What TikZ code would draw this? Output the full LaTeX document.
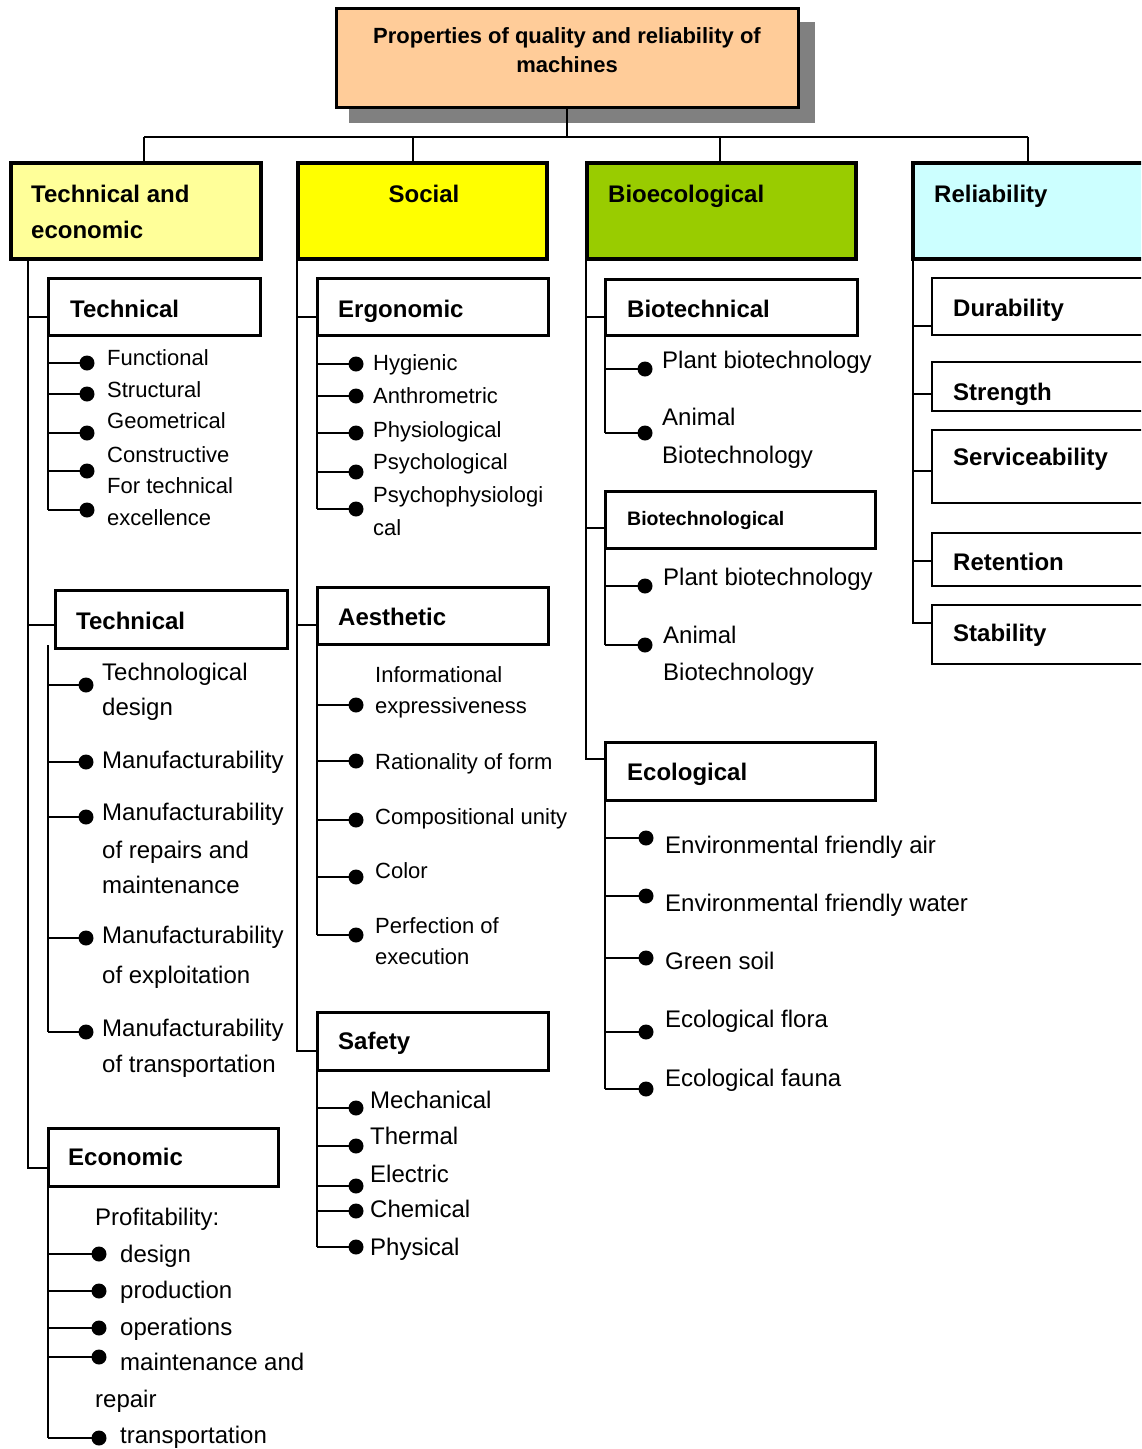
\documentclass[tikz,border=0pt]{standalone}
\usepackage{fontspec}
\setmainfont{Liberation Sans}
\definecolor{peach}{HTML}{FFCC99}
\definecolor{lyellow}{HTML}{FFFF99}
\definecolor{yel}{HTML}{FFFF00}
\definecolor{biogreen}{HTML}{99CC00}
\definecolor{lcyan}{HTML}{CCFFFF}
\definecolor{shadowgray}{HTML}{808080}
\newcommand\itemdot[4]{\node[dot] (#1) at (#3,#4) {}; \draw[tick] (#2 |- #1) -- (#1.center);}
\begin{document}
\begin{tikzpicture}[x=1pt,y=-1pt,
  trunk/.style={line width=2pt},
  tick/.style={line width=2.6pt},
  lvlbox/.style={draw, line width=3.5pt, anchor=north west, inner sep=0pt, outer sep=0pt},
  subbox/.style={draw, line width=3pt, anchor=north west, inner sep=0pt, outer sep=0pt, fill=white},
  relbox/.style={draw, line width=2.2pt, anchor=north west, inner sep=0pt, outer sep=0pt, fill=white},
  dot/.style={circle, fill=black, inner sep=0pt, minimum size=15pt},
  hd/.style={anchor=base west, inner sep=0pt, font=\bfseries\fontsize{24}{28}\selectfont},
  ta/.style={anchor=base west, inner sep=0pt, font=\fontsize{24}{28}\selectfont},
  tb/.style={anchor=base west, inner sep=0pt, font=\fontsize{22}{26}\selectfont},
]
\useasboundingbox (0,0) rectangle (1141,1449);
\clip (0,0) rectangle (1141,1449);

% ---------- top ----------
\fill[shadowgray] (349,22) rectangle (815,123);
\node[lvlbox, fill=peach, line width=3pt, minimum width=462pt, minimum height=99pt] (top) at (336,8) {};
\node[anchor=base, inner sep=0pt, font=\bfseries\fontsize{22}{26}\selectfont] (top-t1) at (567,43) {Properties of quality and reliability of};
\node[anchor=base, inner sep=0pt, font=\bfseries\fontsize{22}{26}\selectfont] (top-t2) at (567,72) {machines};

% ---------- level 1 ----------
\node[lvlbox, fill=lyellow, minimum width=250pt, minimum height=96pt] (te) at (11,163) {};
\node[lvlbox, fill=yel, minimum width=249pt, minimum height=96pt] (so) at (298,163) {};
\node[lvlbox, fill=biogreen, minimum width=269pt, minimum height=96pt] (bio) at (587,163) {};
\node[lvlbox, fill=lcyan, minimum width=260pt, minimum height=96pt] (rel) at (913,163) {};

\node[hd] (te-t1) at (31,202) {Technical and};
\node[hd] (te-t2) at (31,238) {economic};
\node[hd, anchor=base] (so-t) at (424,202) {Social};
\node[hd] (bio-t) at (608,202) {Bioecological};
\node[hd] (rel-t) at (934,202) {Reliability};

\coordinate (bar) at (567,137);
\coordinate (bar-te) at (144,137);
\coordinate (bar-so) at (413,137);
\coordinate (bar-bio) at (720,137);
\coordinate (bar-rel) at (1028,137);
\draw[trunk] (bar |- top.south) -- (bar);
\draw[trunk] (bar-te) -- (bar-rel);
\draw[trunk] (bar-te) -- (bar-te |- te.north);
\draw[trunk] (bar-so) -- (bar-so |- so.north);
\draw[trunk] (bar-bio) -- (bar-bio |- bio.north);
\draw[trunk] (bar-rel) -- (bar-rel |- rel.north);

% ---------- column 1: technical and economic ----------
\node[subbox, minimum width=212pt, minimum height=57pt] (tech1) at (48,278) {};
\node[subbox, minimum width=232pt, minimum height=58pt] (tech2) at (55,590) {};
\node[subbox, minimum width=230pt, minimum height=58pt] (econ) at (48,1128) {};
\node[hd] (tech1-t) at (70,317) {Technical};
\node[hd] (tech2-t) at (76,629) {Technical};
\node[hd] (econ-t) at (68,1165) {Economic};

\coordinate (c1) at (28,259);
\coordinate (c1-b1) at (28,317);
\coordinate (c1-b2) at (28,625);
\coordinate (c1-b3) at (28,1168);
\draw[trunk] (c1) -- (c1-b3) -- (c1-b3 -| econ.west);
\draw[trunk] (c1-b1) -- (c1-b1 -| tech1.west);
\draw[trunk] (c1-b2) -- (c1-b2 -| tech2.west);

% group tech1
\coordinate (g1) at (48,335);
\coordinate (g1e) at (48,510);
\draw[trunk] (g1) -- (g1e);
\itemdot{g1d1}{g1}{87}{363}
\itemdot{g1d2}{g1}{87}{394}
\itemdot{g1d3}{g1}{87}{433}
\itemdot{g1d4}{g1}{87}{471}
\itemdot{g1d5}{g1}{87}{510}
\node[tb] (g1l1) at (107,365) {Functional};
\node[tb] (g1l2) at (107,397) {Structural};
\node[tb] (g1l3) at (107,428) {Geometrical};
\node[tb] (g1l4) at (107,462) {Constructive};
\node[tb] (g1l5) at (107,493) {For technical};
\node[tb] (g1l6) at (107,525) {excellence};

% group tech2
\coordinate (g2) at (48,645);
\coordinate (g2e) at (48,1032);
\draw[trunk] (g2) -- (g2e);
\itemdot{g2d1}{g2}{86}{685}
\itemdot{g2d2}{g2}{86}{762}
\itemdot{g2d3}{g2}{86}{817}
\itemdot{g2d4}{g2}{86}{938}
\itemdot{g2d5}{g2}{86}{1032}
\node[ta] (g2l1) at (102,680) {Technological};
\node[ta] (g2l2) at (102,715) {design};
\node[ta] (g2l3) at (102,768) {Manufacturability};
\node[ta] (g2l4) at (102,820) {Manufacturability};
\node[ta] (g2l5) at (102,858) {of repairs and};
\node[ta] (g2l6) at (102,893) {maintenance};
\node[ta] (g2l7) at (102,943) {Manufacturability};
\node[ta] (g2l8) at (102,983) {of exploitation};
\node[ta] (g2l9) at (102,1036) {Manufacturability};
\node[ta] (g2l10) at (102,1072) {of transportation};

% group econ
\coordinate (g3) at (48,1186);
\coordinate (g3e) at (48,1438);
\draw[trunk] (g3) -- (g3e);
\itemdot{g3d1}{g3}{99}{1254}
\itemdot{g3d2}{g3}{99}{1291}
\itemdot{g3d3}{g3}{99}{1328}
\itemdot{g3d4}{g3}{99}{1357}
\itemdot{g3d5}{g3}{99}{1438}
\node[ta] (g3l0) at (95,1225) {Profitability:};
\node[ta] (g3l1) at (120,1262) {design};
\node[ta] (g3l2) at (120,1298) {production};
\node[ta] (g3l3) at (120,1335) {operations};
\node[ta] (g3l4) at (120,1370) {maintenance and};
\node[ta] (g3l5) at (95,1407) {repair};
\node[ta] (g3l6) at (120,1443) {transportation};

% ---------- column 2: social ----------
\node[subbox, minimum width=231pt, minimum height=57pt] (ergo) at (317,278) {};
\node[subbox, minimum width=231pt, minimum height=57pt] (aest) at (317,587) {};
\node[subbox, minimum width=231pt, minimum height=58pt] (safe) at (317,1012) {};
\node[hd] (ergo-t) at (338,317) {Ergonomic};
\node[hd] (aest-t) at (338,625) {Aesthetic};
\node[hd] (safe-t) at (338,1049) {Safety};

\coordinate (c2) at (297,259);
\coordinate (c2-b1) at (297,317);
\coordinate (c2-b2) at (297,625);
\coordinate (c2-b3) at (297,1051);
\draw[trunk] (c2) -- (c2-b3) -- (c2-b3 -| safe.west);
\draw[trunk] (c2-b1) -- (c2-b1 -| ergo.west);
\draw[trunk] (c2-b2) -- (c2-b2 -| aest.west);

% ergonomic
\coordinate (g4) at (317,335);
\coordinate (g4e) at (317,509);
\draw[trunk] (g4) -- (g4e);
\itemdot{g4d1}{g4}{356}{364}
\itemdot{g4d2}{g4}{356}{396}
\itemdot{g4d3}{g4}{356}{433}
\itemdot{g4d4}{g4}{356}{472}
\itemdot{g4d5}{g4}{356}{509}
\node[tb] (g4l1) at (373,370) {Hygienic};
\node[tb] (g4l2) at (373,403) {Anthrometric};
\node[tb] (g4l3) at (373,437) {Physiological};
\node[tb] (g4l4) at (373,469) {Psychological};
\node[tb] (g4l5) at (373,502) {Psychophysiologi};
\node[tb] (g4l6) at (373,535) {cal};

% aesthetic
\coordinate (g5) at (317,644);
\coordinate (g5e) at (317,935);
\draw[trunk] (g5) -- (g5e);
\itemdot{g5d1}{g5}{356}{705}
\itemdot{g5d2}{g5}{356}{761}
\itemdot{g5d3}{g5}{356}{820}
\itemdot{g5d4}{g5}{356}{877}
\itemdot{g5d5}{g5}{356}{935}
\node[tb] (g5l1) at (375,682) {Informational};
\node[tb] (g5l2) at (375,713) {expressiveness};
\node[tb] (g5l3) at (375,769) {Rationality of form};
\node[tb] (g5l4) at (375,824) {Compositional unity};
\node[tb] (g5l5) at (375,878) {Color};
\node[tb] (g5l6) at (375,933) {Perfection of};
\node[tb] (g5l7) at (375,964) {execution};

% safety
\coordinate (g6) at (317,1070);
\coordinate (g6e) at (317,1247);
\draw[trunk] (g6) -- (g6e);
\itemdot{g6d1}{g6}{356}{1108}
\itemdot{g6d2}{g6}{356}{1146}
\itemdot{g6d3}{g6}{356}{1186}
\itemdot{g6d4}{g6}{356}{1211}
\itemdot{g6d5}{g6}{356}{1247}
\node[ta] (g6l1) at (370,1108) {Mechanical};
\node[ta] (g6l2) at (370,1144) {Thermal};
\node[ta] (g6l3) at (370,1182) {Electric};
\node[ta] (g6l4) at (370,1217) {Chemical};
\node[ta] (g6l5) at (370,1255) {Physical};

% ---------- column 3: bioecological ----------
\node[subbox, minimum width=252pt, minimum height=56pt] (biot) at (605,279) {};
\node[subbox, minimum width=270pt, minimum height=57pt] (biotg) at (605,491) {};
\node[subbox, minimum width=270pt, minimum height=58pt] (eco) at (605,742) {};
\node[hd] (biot-t) at (627,317) {Biotechnical};
\node[hd, font=\bfseries\fontsize{19.5}{23}\selectfont] (biotg-t) at (627,525) {Biotechnological};
\node[hd] (eco-t) at (627,780) {Ecological};

\coordinate (c3) at (586,259);
\coordinate (c3-b1) at (586,317);
\coordinate (c3-b2) at (586,528);
\coordinate (c3-b3) at (586,759);
\draw[trunk] (c3) -- (c3-b3) -- (c3-b3 -| eco.west);
\draw[trunk] (c3-b1) -- (c3-b1 -| biot.west);
\draw[trunk] (c3-b2) -- (c3-b2 -| biotg.west);

% biotechnical
\coordinate (g7) at (605,335);
\coordinate (g7e) at (605,433);
\draw[trunk] (g7) -- (g7e);
\itemdot{g7d1}{g7}{645}{369}
\itemdot{g7d2}{g7}{645}{433}
\node[ta] (g7l1) at (662,368) {Plant biotechnology};
\node[ta] (g7l2) at (662,425) {Animal};
\node[ta] (g7l3) at (662,463) {Biotechnology};

% biotechnological
\coordinate (g8) at (605,548);
\coordinate (g8e) at (605,645);
\draw[trunk] (g8) -- (g8e);
\itemdot{g8d1}{g8}{645}{586}
\itemdot{g8d2}{g8}{645}{645}
\node[ta] (g8l1) at (663,585) {Plant biotechnology};
\node[ta] (g8l2) at (663,643) {Animal};
\node[ta] (g8l3) at (663,680) {Biotechnology};

% ecological
\coordinate (g9) at (605,800);
\coordinate (g9e) at (605,1089);
\draw[trunk] (g9) -- (g9e);
\itemdot{g9d1}{g9}{646}{838}
\itemdot{g9d2}{g9}{646}{896}
\itemdot{g9d3}{g9}{646}{958}
\itemdot{g9d4}{g9}{646}{1032}
\itemdot{g9d5}{g9}{646}{1089}
\node[ta] (g9l1) at (665,853) {Environmental friendly air};
\node[ta] (g9l2) at (665,911) {Environmental friendly water};
\node[ta] (g9l3) at (665,969) {Green soil};
\node[ta] (g9l4) at (665,1027) {Ecological flora};
\node[ta] (g9l5) at (665,1086) {Ecological fauna};

% ---------- column 4: reliability ----------
\node[relbox, minimum width=230pt, minimum height=57pt] (dur) at (932,278) {};
\node[relbox, minimum width=230pt, minimum height=49pt] (str) at (932,362) {};
\node[relbox, minimum width=230pt, minimum height=73pt] (serv) at (932,430) {};
\node[relbox, minimum width=230pt, minimum height=53pt] (ret) at (932,533) {};
\node[relbox, minimum width=230pt, minimum height=59pt] (stab) at (932,605) {};
\node[hd] (dur-t) at (953,316) {Durability};
\node[hd] (str-t) at (953,400) {Strength};
\node[hd] (serv-t) at (953,465) {Serviceability};
\node[hd] (ret-t) at (953,570) {Retention};
\node[hd] (stab-t) at (953,641) {Stability};

\coordinate (c4) at (913,259);
\coordinate (c4-b1) at (913,326);
\coordinate (c4-b2) at (913,394);
\coordinate (c4-b3) at (913,471);
\coordinate (c4-b4) at (913,561);
\coordinate (c4-b5) at (913,623);
\draw[trunk] (c4) -- (c4-b5) -- (c4-b5 -| stab.west);
\draw[trunk] (c4-b1) -- (c4-b1 -| dur.west);
\draw[trunk] (c4-b2) -- (c4-b2 -| str.west);
\draw[trunk] (c4-b3) -- (c4-b3 -| serv.west);
\draw[trunk] (c4-b4) -- (c4-b4 -| ret.west);
\end{tikzpicture}
\end{document}
